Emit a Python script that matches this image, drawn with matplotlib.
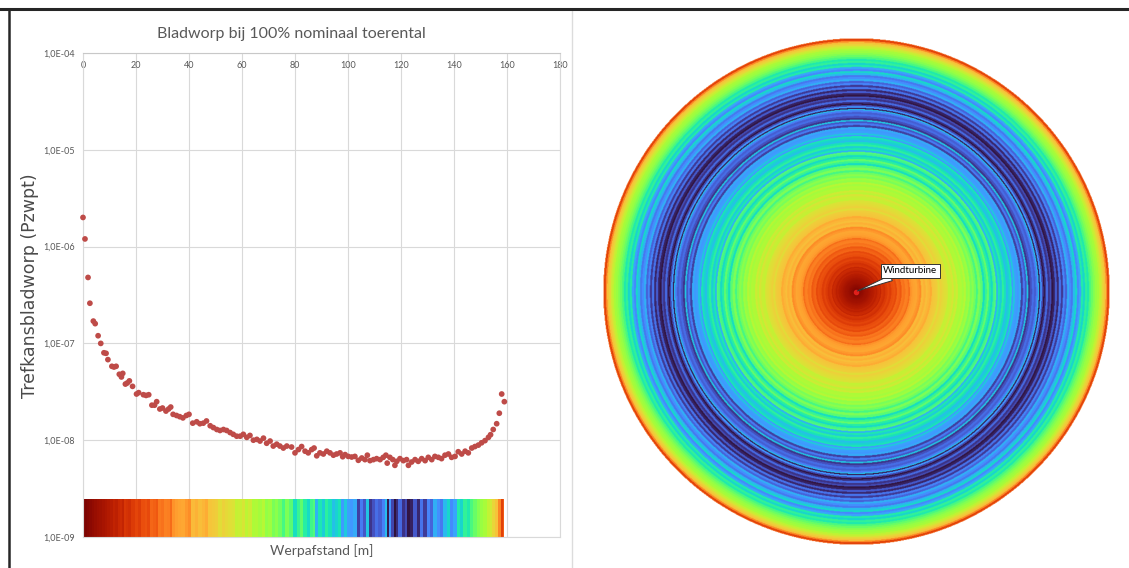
import numpy as np
import matplotlib
matplotlib.use("Agg")
import matplotlib.pyplot as plt
from matplotlib.lines import Line2D
from matplotlib.ticker import FixedLocator, NullLocator, FuncFormatter

plt.rcParams['font.family'] = ['Lato', 'DejaVu Sans']

# ---------------- data ----------------
title = "Bladworp bij 100% nominaal toerental"
x_label = "Werpafstand [m]"
y_label = "Trefkansbladworp (Pzwpt)"
turbine_label = "Windturbine"

x_ticks = [0, 20, 40, 60, 80, 100, 120, 140, 160, 180]
y_ticks = [1e-9, 1e-8, 1e-7, 1e-6, 1e-5, 1e-4]

distance = [
    0.0, 0.75, 1.9, 2.6, 3.9, 4.6, 5.7, 6.7, 7.9, 8.7,
    9.4, 10.9, 11.7, 12.5, 13.7, 14.5, 15.0, 16.0, 16.7, 17.5,
    18.7, 20.2, 21.0, 22.8, 23.8, 24.8, 26.0, 27.0, 27.8, 29.0,
    30.0, 31.3, 32.3, 33.1, 34.0, 35.3, 36.5, 37.7, 39.0, 40.0,
    41.4, 42.9, 44.1, 45.4, 46.6, 48.0, 49.2, 50.5, 51.7, 53.0,
    54.2, 55.5, 56.7, 58.0, 59.3, 60.5, 61.8, 63.0, 64.3, 65.6,
    66.8, 68.1, 69.3, 70.6, 71.8, 73.1, 74.3, 75.6, 76.9, 78.7,
    80.0, 81.3, 82.5, 83.8, 85.0, 86.3, 87.2, 88.2, 89.4, 90.7,
    92.0, 93.2, 94.5, 95.7, 97.0, 98.0, 98.9, 100.1, 101.4, 102.6,
    103.9, 105.2, 106.4, 107.3, 108.3, 109.6, 110.8, 112.1, 113.3, 114.3,
    114.8, 115.8, 116.9, 117.7, 118.4, 119.6, 120.9, 122.1, 122.8, 124.0,
    125.3, 126.5, 127.8, 129.1, 130.3, 131.6, 132.8, 134.1, 135.3, 136.6,
    137.9, 139.1, 140.4, 141.6, 142.9, 144.2, 145.4, 146.7, 147.9, 149.2,
    150.4, 151.7, 153.0, 153.8, 154.8, 156.1, 157.1, 158.0, 159.0,
]

probability = [
    2.0e-6, 1.2e-6, 4.8e-7, 2.6e-7, 1.7e-7, 1.6e-7, 1.2e-7, 1.0e-7, 8.0e-8, 7.9e-8,
    6.8e-8, 5.8e-8, 5.7e-8, 5.8e-8, 4.8e-8, 4.5e-8, 4.9e-8, 3.8e-8, 3.9e-8, 4.1e-8,
    3.6e-8, 3.0e-8, 3.1e-8, 2.95e-8, 2.9e-8, 2.95e-8, 2.3e-8, 2.3e-8, 2.5e-8, 2.1e-8,
    2.15e-8, 2.0e-8, 2.1e-8, 2.2e-8, 1.85e-8, 1.8e-8, 1.75e-8, 1.7e-8, 1.8e-8, 1.85e-8,
    1.5e-8, 1.55e-8, 1.48e-8, 1.5e-8, 1.58e-8, 1.41e-8, 1.35e-8, 1.29e-8, 1.26e-8, 1.29e-8,
    1.26e-8, 1.2e-8, 1.15e-8, 1.1e-8, 1.1e-8, 1.15e-8, 1.07e-8, 1.12e-8, 1.0e-8, 1.02e-8,
    9.8e-9, 1.05e-8, 9.3e-9, 9.8e-9, 8.7e-9, 9.1e-9, 8.7e-9, 8.3e-9, 8.7e-9, 8.5e-9,
    7.4e-9, 8.0e-9, 8.6e-9, 7.7e-9, 7.4e-9, 8.0e-9, 8.3e-9, 6.9e-9, 7.4e-9, 7.2e-9,
    7.7e-9, 7.4e-9, 7.0e-9, 7.2e-9, 7.4e-9, 6.75e-9, 7.1e-9, 6.8e-9, 6.7e-9, 6.8e-9,
    6.2e-9, 6.55e-9, 6.3e-9, 7.0e-9, 6.15e-9, 6.3e-9, 6.45e-9, 6.3e-9, 6.65e-9, 7.0e-9,
    5.8e-9, 6.65e-9, 6.3e-9, 5.5e-9, 6.05e-9, 6.45e-9, 6.15e-9, 6.3e-9, 5.5e-9, 5.95e-9,
    6.3e-9, 6.05e-9, 6.45e-9, 6.15e-9, 6.65e-9, 6.3e-9, 6.8e-9, 6.65e-9, 6.45e-9, 7.0e-9,
    7.2e-9, 6.65e-9, 6.8e-9, 7.6e-9, 7.2e-9, 7.7e-9, 7.4e-9, 8.3e-9, 8.6e-9, 8.9e-9,
    9.4e-9, 9.9e-9, 1.07e-8, 1.14e-8, 1.29e-8, 1.48e-8, 1.9e-8, 3.0e-8, 2.5e-8,
]

# ---------------- derived colour mapping ----------------
d = np.asarray(distance, dtype=float)
p = np.asarray(probability, dtype=float)
n = len(d)
rank = np.argsort(np.argsort(p)) / (n - 1)          # 0 = lowest, 1 = highest
cmap = plt.get_cmap('turbo')
edges = np.concatenate([[0.0], (d[:-1] + d[1:]) / 2, [d[-1]]])
dmax = d[-1]

W, H = 1129, 568
fig = plt.figure(figsize=(W / 100, H / 100), dpi=100)
fig.patch.set_facecolor('white')

gray_txt = '#595959'
grid_c = '#d9d9d9'

# ---------------- left panel ----------------
ax = fig.add_axes([83 / W, 1 - 537 / H, (560 - 83) / W, (537 - 53) / H])
ax.set_yscale('log')
ax.set_xlim(0, 180)
ax.set_ylim(1e-9, 1e-4)
ax.xaxis.set_major_locator(FixedLocator(x_ticks))
ax.yaxis.set_major_locator(FixedLocator(y_ticks))
ax.yaxis.set_minor_locator(NullLocator())
ax.xaxis.set_minor_locator(NullLocator())
ax.yaxis.set_major_formatter(FuncFormatter(lambda v, pos: '1,0E-%02d' % int(round(-np.log10(v)))))
ax.tick_params(axis='x', which='both', bottom=False, top=False, labelbottom=False,
               labeltop=True, pad=-12, labelsize=6.5, labelcolor=gray_txt, length=0)
ax.tick_params(axis='y', which='both', left=False, right=False, labelsize=6.5,
               labelcolor=gray_txt, length=0, pad=6)
ax.grid(True, which='major', color=grid_c, lw=0.8)
ax.set_axisbelow(True)
for s in ax.spines.values():
    s.set_color(grid_c)
    s.set_linewidth(0.8)
ax.spines['top'].set_color('#c8c8c8')

# colour strip inside the chart
strip_top = 2.45e-9
ax.pcolormesh(edges, [1e-9, strip_top], rank[np.newaxis, :], cmap=cmap,
              vmin=0, vmax=1, shading='flat', zorder=2)

ax.scatter(d, p, s=17, color='#be4b48', edgecolors='none', zorder=3, clip_on=False)

ax.set_xlabel(x_label, fontsize=10, color=gray_txt, labelpad=5)
ax.set_ylabel(y_label, fontsize=12.5, color='#4a4a4a', family=['DejaVu Sans'])
ax.yaxis.set_label_coords(-0.092, 0.52)

fig.text(291 / W, 1 - 34 / H, title, fontsize=11.5, color=gray_txt, ha='center', va='center')

# ---------------- right panel: radial map ----------------
R_px = 253.5
cx, cy = 856, 291.5
axc = fig.add_axes([(cx - R_px) / W, 1 - (cy + R_px) / H, 2 * R_px / W, 2 * R_px / H])
N = 900
g = np.linspace(-dmax, dmax, N)
XX, YY = np.meshgrid(g, g)
RR = np.hypot(XX, YY)
idx = np.clip(np.searchsorted(edges, RR, side='right') - 1, 0, n - 1)
img = cmap(rank[idx])
img[RR > dmax, 3] = 0.0
axc.imshow(img, extent=[-dmax, dmax, -dmax, dmax], origin='lower', interpolation='antialiased')
axc.set_xlim(-dmax, dmax)
axc.set_ylim(-dmax, dmax)
axc.set_aspect('equal')
axc.axis('off')

axc.plot([0], [0], 'o', ms=3, color='#e0201b', zorder=5)
axc.annotate(turbine_label, xy=(0, 0), xytext=(39, 15), textcoords='offset points',
             ha='center', va='center', fontsize=7, color='black',
             bbox=dict(boxstyle='square,pad=0.25', fc='white', ec='#333333', lw=0.7),
             arrowprops=dict(arrowstyle='wedge,tail_width=0.6', fc='white', ec='#333333',
                             lw=0.7, shrinkA=0, shrinkB=1),
             zorder=6)

# ---------------- frame lines ----------------
fig.add_artist(Line2D([572 / W, 572 / W], [0, 1 - 10 / H], color='#dcdcdc', lw=1))
fig.add_artist(Line2D([0, 1], [1 - 9 / H, 1 - 9 / H], color='#262626', lw=2.2))
fig.add_artist(Line2D([8.5 / W, 8.5 / W], [0, 1 - 9 / H], color='#262626', lw=1.8))

fig.savefig('out.png', dpi=100, facecolor='white')
